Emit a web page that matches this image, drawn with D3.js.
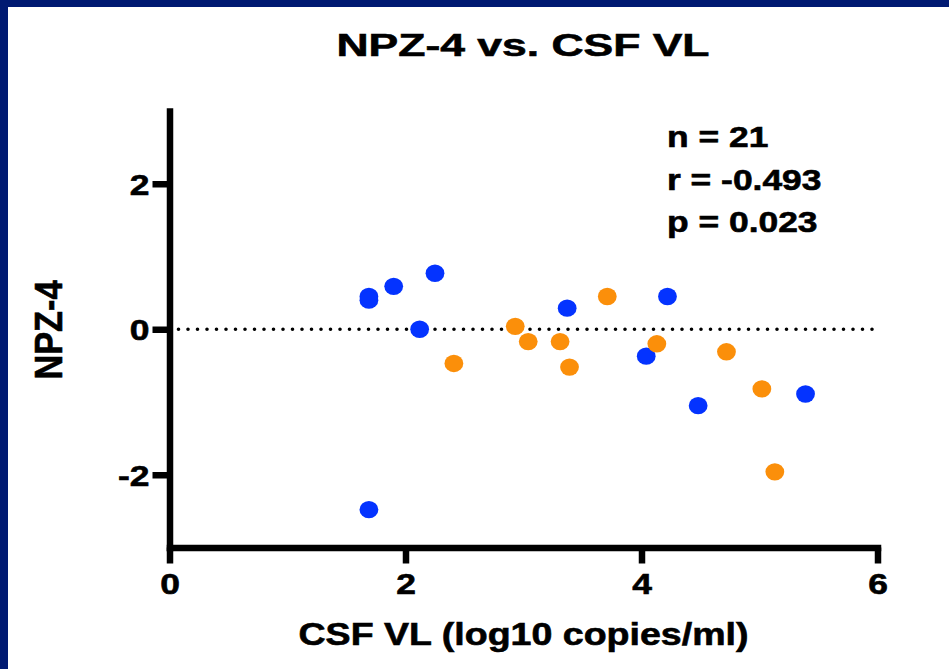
<!DOCTYPE html>
<html>
<head>
<meta charset="utf-8">
<script src="https://cdn.jsdelivr.net/npm/d3@7"></script>
<style>
  body { margin: 0; background: #fff; }
  text { font-family: "Liberation Sans", Arial, sans-serif; font-weight: bold; fill: #000; stroke: #000; stroke-width: 0.6px; }
</style>
</head>
<body>
<div id="chart"></div>
<script>
// group 1 (blue) and group 2 (orange): CSF VL (log10) vs NPZ-4
const blueX = [1.69, 1.69, 1.90, 2.25, 2.12, 1.69, 3.37, 4.22, 4.04, 5.39, 4.48];
const blueY = [0.45, 0.40, 0.59, 0.77, 0.00, -2.48, 0.29, 0.45, -0.37, -0.89, -1.05];
const orangeX = [2.41, 3.71, 2.93, 3.04, 3.31, 3.39, 4.13, 4.72, 5.02, 5.13];
const orangeY = [-0.47, 0.45, 0.04, -0.17, -0.17, -0.52, -0.20, -0.31, -0.82, -1.96];
const xTicks = [0, 2, 4, 6];
const yTicks = [-2, 0, 2];
const statLines = ["n = 21", "r = -0.493", "p = 0.023"];

const W = 949, H = 669;
const stretch = 1.2; // reference text is a bit wider than Arial

const svg = d3.select("#chart").append("svg")
    .attr("width", W)
    .attr("height", H);

// navy frame (top + left)
svg.append("rect").attr("x", 0).attr("y", 0).attr("width", W).attr("height", 7).attr("fill", "#001a72");
svg.append("rect").attr("x", 0).attr("y", 0).attr("width", 8).attr("height", H).attr("fill", "#001a72");

const x = d3.scaleLinear().domain([0, 6]).range([169.5, 877.5]);
const y = d3.scaleLinear().domain([-3, 3]).range([547.5, 111]);

function widen(sel, k) {
    sel.each(function() {
        const len = this.getComputedTextLength();
        d3.select(this).attr("textLength", len * k).attr("lengthAdjust", "spacingAndGlyphs");
    });
}

// title
svg.append("text")
    .attr("x", 523)
    .attr("y", 56)
    .attr("text-anchor", "middle")
    .style("font-size", "32px")
    .attr("textLength", 373)
    .attr("lengthAdjust", "spacingAndGlyphs")
    .text("NPZ-4 vs. CSF VL");

// zero reference line (dotted)
svg.append("line")
    .attr("x1", x(0) + 9)
    .attr("x2", x(6))
    .attr("y1", y(0))
    .attr("y2", y(0))
    .attr("stroke", "#000")
    .attr("stroke-width", 3.6)
    .attr("stroke-linecap", "round")
    .attr("stroke-dasharray", "0 9.5");

// axes
const fmt = d => String(d); // plain hyphen for negatives, no decimals

const xAxis = svg.append("g")
    .attr("transform", `translate(0, ${y(-3)})`)
    .call(d3.axisBottom(x).tickValues(xTicks).tickFormat(fmt).tickSize(16).tickSizeOuter(0).tickPadding(10));

const yAxis = svg.append("g")
    .attr("transform", `translate(${x(0)}, 0)`)
    .call(d3.axisLeft(y).tickValues(yTicks).tickFormat(fmt).tickSize(17).tickSizeOuter(0).tickPadding(3));

[xAxis, yAxis].forEach(g => {
    g.select(".domain").attr("stroke", "#000").attr("stroke-width", 6.5).attr("stroke-linecap", "square");
    g.selectAll(".tick line").attr("stroke", "#000").attr("stroke-width", 6.5);
    g.selectAll(".tick text").style("font-size", "29.5px").attr("font-family", null).attr("fill", "#000");
});
xAxis.selectAll(".tick text").attr("dy", "0.71em");
yAxis.selectAll(".tick text").attr("dy", "0.36em");
widen(xAxis.selectAll(".tick text"), stretch);
widen(yAxis.selectAll(".tick text"), stretch);

// axis titles
svg.append("text")
    .attr("x", 523.5)
    .attr("y", 645)
    .attr("text-anchor", "middle")
    .style("font-size", "31px")
    .attr("textLength", 450)
    .attr("lengthAdjust", "spacingAndGlyphs")
    .text("CSF VL (log10 copies/ml)");

svg.append("text")
    .attr("transform", "translate(62, 330) rotate(-90)")
    .attr("text-anchor", "middle")
    .style("font-size", "39px")
    .attr("textLength", 99)
    .attr("lengthAdjust", "spacingAndGlyphs")
    .text("NPZ-4");

// points
const blue = blueX.map((v, i) => ({ x: v, y: blueY[i] }));
const orange = orangeX.map((v, i) => ({ x: v, y: orangeY[i] }));

svg.selectAll(".pt-blue")
    .data(blue)
    .enter().append("ellipse")
    .attr("class", "pt-blue")
    .attr("cx", d => x(d.x))
    .attr("cy", d => y(d.y))
    .attr("rx", 9.4)
    .attr("ry", 8.7)
    .attr("fill", "#0433ff");

svg.selectAll(".pt-orange")
    .data(orange)
    .enter().append("ellipse")
    .attr("class", "pt-orange")
    .attr("cx", d => x(d.x))
    .attr("cy", d => y(d.y))
    .attr("rx", 9.4)
    .attr("ry", 8.7)
    .attr("fill", "#fb8f0a");

// stats block
const stats = svg.selectAll(".stat")
    .data(statLines)
    .enter().append("text")
    .attr("class", "stat")
    .attr("x", 667)
    .attr("y", (d, i) => 147.3 + i * 42.5)
    .style("font-size", "29.5px")
    .text(d => d);
widen(stats, stretch);
</script>
</body>
</html>
